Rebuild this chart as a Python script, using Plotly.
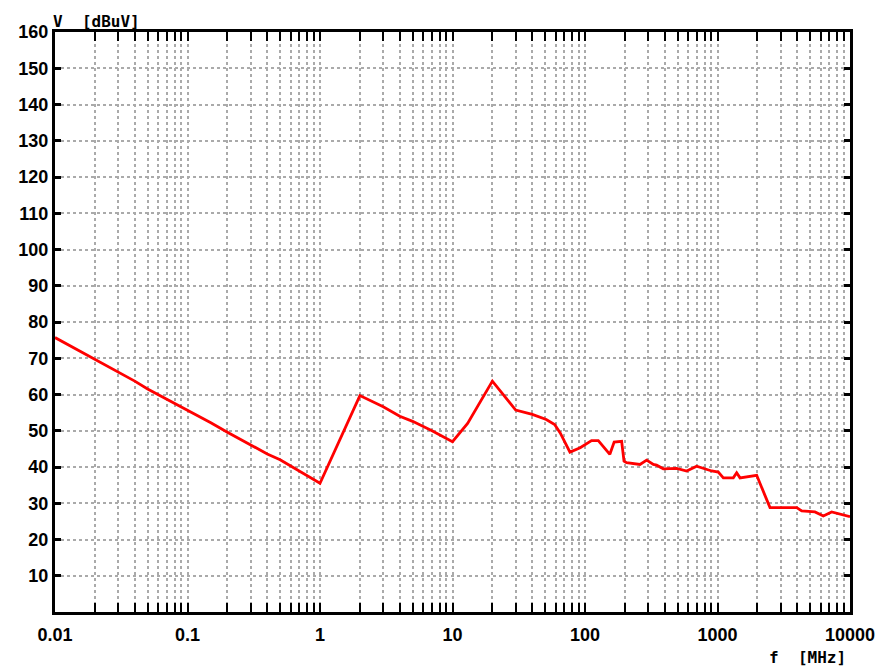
import plotly.graph_objects as go

freq_mhz = [0.01, 0.015, 0.02, 0.03, 0.04, 0.05, 0.07, 0.1, 0.15, 0.2, 0.3, 0.4, 0.5, 0.7, 1.0,
            2.0, 3.0, 4.0, 5.0, 7.0, 10.0, 13.0, 20.0, 30.0, 40.0, 51.0, 59.0, 65.0, 77.0,
            92.0, 112.0, 126.0, 137.0, 154.0, 166.0, 189.0, 197.0, 206.0, 260.0, 292.0, 328.0,
            347.0, 390.0, 492.0, 585.0, 696.0, 904.0, 1014.0, 1107.0, 1316.0, 1395.0, 1479.0,
            1976.0, 2490.0, 3960.0, 4320.0, 5440.0, 6290.0, 7270.0, 8910.0, 10000.0]
level_dbuv = [75.7, 72.2, 69.7, 66.1, 63.7, 61.5, 58.7, 55.6, 52.2, 49.6, 46.2, 43.6, 42.0, 38.8, 35.5,
              59.7, 56.6, 54.0, 52.6, 50.0, 47.0, 52.0, 63.7, 55.7, 54.5, 53.1, 51.7, 49.4, 44.1,
              45.3, 47.3, 47.3, 45.6, 43.5, 46.9, 47.1, 41.6, 41.2, 40.7, 41.9, 40.7,
              40.5, 39.5, 39.6, 38.9, 40.2, 38.9, 38.6, 37.0, 37.0, 38.4, 37.0,
              37.7, 28.8, 28.8, 27.9, 27.6, 26.5, 27.6, 26.9, 26.3]

x_tickvals = [0.01, 0.1, 1, 10, 100, 1000, 10000]
x_ticktext = ["0.01", "0.1", "1", "10", "100", "1000", "10000"]
y_tickvals = [10, 20, 30, 40, 50, 60, 70, 80, 90, 100, 110, 120, 130, 140, 150, 160]

fig = go.Figure()
fig.add_trace(go.Scatter(x=freq_mhz, y=level_dbuv, mode="lines",
                         line=dict(color="#ff0000", width=2.8), showlegend=False))

tickfont = dict(family="Liberation Sans", size=18, color="black", weight="bold")
grid_col = "#aaaaaa"
dash = "3px,3px"

fig.update_xaxes(type="log", range=[-2, 4], tickvals=x_tickvals, ticktext=x_ticktext,
                 showline=True, linecolor="black", linewidth=3, mirror="ticks",
                 ticks="inside", ticklen=9, tickwidth=2, tickcolor="black",
                 showgrid=True, gridcolor=grid_col, gridwidth=2, griddash=dash,
                 minor=dict(dtick="D1", ticks="inside", ticklen=9, tickwidth=2, tickcolor="black",
                            showgrid=True, gridcolor=grid_col, gridwidth=2, griddash=dash),
                 tickfont=tickfont, zeroline=False, automargin=False, ticklabelstandoff=4)
fig.update_yaxes(range=[0, 160], tickvals=y_tickvals,
                 showline=True, linecolor="black", linewidth=3, mirror="ticks",
                 ticks="inside", ticklen=6, tickwidth=3, tickcolor="black",
                 showgrid=True, gridcolor=grid_col, gridwidth=2, griddash=dash,
                 tickfont=tickfont, zeroline=False, automargin=False)

titlefont = dict(family="DejaVu Sans Mono", size=16, color="black", weight="bold")
fig.add_annotation(text="V  [dBuV]", xref="paper", yref="paper", x=0, y=1,
                   xanchor="left", yanchor="bottom", showarrow=False, font=titlefont,
                   yshift=-1, xshift=-4)
fig.add_annotation(text="f  [MHz]", xref="paper", yref="paper", x=1, y=0,
                   xanchor="right", yanchor="top", showarrow=False, font=titlefont, yshift=-34, xshift=-2)

fig.update_layout(width=878, height=668, margin=dict(l=55, r=28, t=32, b=56),
                  plot_bgcolor="white", paper_bgcolor="white")
fig.write_html("out.html")
